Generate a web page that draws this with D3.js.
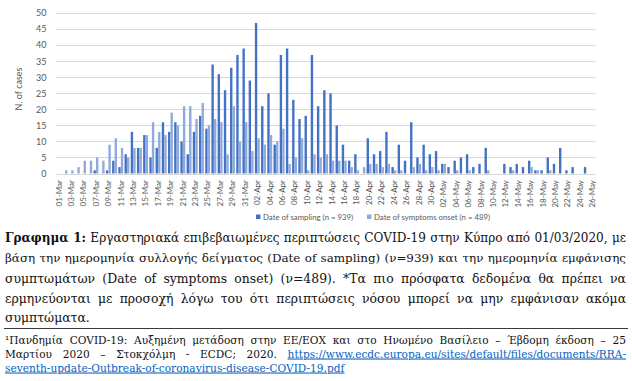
<!DOCTYPE html>
<html><head><meta charset="utf-8">
<script src="https://cdn.jsdelivr.net/npm/d3@7"></script>
<style>body{margin:0;background:#fff} svg{display:block}</style>
</head><body>
<svg id="c" width="632" height="381"></svg>
<script>
// ---- data ----
const days = d3.timeDays(new Date(2020, 2, 1), new Date(2020, 4, 27));
const categories = days.map(d3.timeFormat("%d-%b"));   // 01-Mar ... 26-May
const sampling = [
  0,0,0,0,0,0,1,0,1,4,2,6,13,8,12,
  5,8,16,13,16,10,6,13,18,14,
  34,31,26,33,37,39,29,47,21,25,
  9,37,39,23,17,18,
  37,21,26,25,15,9,4,6,0,11,
  6,7,13,2,9,4,16,5,9,6,
  7,3,2,4,5,6,2,3,8,0,
  0,3,2,3,2,4,1,1,5,3,
  8,1,2,0,2,0
];
const onset = [
  0,1,1,2,4,4,5,4,9,11,8,5,8,8,12,
  16,13,12,19,15,21,21,17,22,15,
  17,16,6,21,10,16,7,11,9,12,
  10,14,3,5,11,1,
  6,5,6,4,4,4,2,1,2,3,
  3,2,3,1,1,0,2,3,1,2,
  1,3,0,1,0,1,0,0,1,0,
  0,0,1,0,0,2,1,0,1,0,
  0,0,0,0,0,0
];
const yTicks = [0,5,10,15,20,25,30,35,40,45,50];
const seriesNames = ["Date of sampling (n = 939)", "Date of symptoms onset (n = 489)"];
const seriesColors = ["#4472C4", "#8FAADC"];
const yTitle = "N. of cases";

const captionLines = [
  [{t:"Γραφημα 1:", b:true}, {t:" Εργαστηριακά επιβεβαιωμένες περιπτώσεις COVID-19 στην Κύπρο από 01/03/2020, με"}],
  [{t:"βάση την ημερομηνία συλλογής δείγματος (Date of sampling) (ν=939) και την ημερομηνία εμφάνισης"}],
  [{t:"συμπτωμάτων (Date of symptoms onset) (ν=489). *Τα πιο πρόσφατα δεδομένα θα πρέπει να"}],
  [{t:"ερμηνεύονται με προσοχή λόγω του ότι περιπτώσεις νόσου μπορεί να μην εμφάνισαν ακόμα"}],
  [{t:"συμπτώματα."}]
];
const footLines = [
  [{t:"¹Πανδημία COVID-19: Αυξημένη μετάδοση στην ΕΕ/ΕΟΧ και στο Ηνωμένο Βασίλειο – Έβδομη έκδοση – 25"}],
  [{t:"Μαρτίου 2020 – Στοκχόλμη - ECDC; 2020. "}, {t:"https://www.ecdc.europa.eu/sites/default/files/documents/RRA-", link:true}],
  [{t:"seventh-update-Outbreak-of-coronavirus-disease-COVID-19.pdf", link:true}]
];

// ---- chart ----
const svg = d3.select("#c");
const sansFont = "Lato, 'Open Sans', sans-serif";
const serifFont = "'DejaVu Serif', 'Liberation Serif', serif";
const plotL = 55.6, plotR = 595.6, y0 = 173.5, y50 = 13.3;

const x = d3.scaleBand().domain(categories).range([plotL, plotR]).padding(0);
const xi = d3.scaleBand().domain([0, 1]).range([0, x.bandwidth()]).paddingInner(0.05).paddingOuter(0.26);
const y = d3.scaleLinear().domain([0, 50]).range([y0, y50]);

svg.append("g").selectAll("line").data(yTicks).join("line")
  .attr("x1", plotL).attr("x2", plotR)
  .attr("y1", d => Math.round(y(d)) + 0.5).attr("y2", d => Math.round(y(d)) + 0.5)
  .attr("stroke", "#D9D9D9").attr("stroke-width", 1);

svg.append("g").selectAll("text").data(yTicks).join("text")
  .attr("x", 46.5).attr("y", d => y(d)).attr("dy", "0.35em")
  .attr("text-anchor", "end").attr("font-family", sansFont).attr("font-size", 9)
  .attr("fill", "#595959").text(d => d);

svg.append("text")
  .attr("transform", `translate(18.5,89) rotate(-90)`)
  .attr("text-anchor", "middle").attr("dy", "0.35em")
  .attr("font-family", sansFont).attr("font-size", 9).attr("fill", "#595959")
  .text(yTitle);

const series = [sampling, onset];
series.forEach((vals, s) => {
  svg.append("g").selectAll("rect").data(vals).join("rect")
    .attr("x", (d, i) => x(categories[i]) + xi(s))
    .attr("width", xi.bandwidth())
    .attr("y", d => y(d))
    .attr("height", d => y(0) - y(d))
    .attr("fill", seriesColors[s]);
});

svg.append("g").selectAll("text").data(categories.filter((c, i) => i % 2 === 0)).join("text")
  .attr("transform", d => `translate(${x(d) + x.bandwidth() / 2},180) rotate(-90)`)
  .attr("text-anchor", "end").attr("dy", "0.35em")
  .attr("font-family", sansFont).attr("font-size", 8).attr("fill", "#595959")
  .text(d => d);

// legend
const legendX = [256, 367];
seriesNames.forEach((name, s) => {
  svg.append("rect").attr("x", legendX[s]).attr("y", 214.5).attr("width", 4.5).attr("height", 4.5)
    .attr("fill", seriesColors[s]);
  svg.append("text").attr("x", legendX[s] + 7).attr("y", 216.8).attr("dy", "0.35em")
    .attr("font-family", sansFont).attr("font-size", 7.8).attr("fill", "#595959").text(name);
});

// caption (justified lines)
const lineW = 621;
function writeLines(lines, baselines, size, justifyCount) {
  lines.forEach((parts, li) => {
    const t = svg.append("text").attr("x", 5).attr("y", baselines[li])
      .attr("font-family", serifFont).attr("font-size", size).attr("fill", "#111")
      .attr("xml:space", "preserve");
    parts.forEach(p => {
      const ts = t.append("tspan").text(p.t);
      if (p.b) ts.attr("font-weight", "bold");
      if (p.link) ts.attr("fill", "#0563C1").attr("text-decoration", "underline");
    });
    if (li < justifyCount) {
      const txt = parts.map(p => p.t).join("");
      const n = (txt.match(/ /g) || []).length;
      let len = t.node().getComputedTextLength();
      const maxNat = lineW - n * 0.5;
      if (len > maxNat) {
        t.attr("font-size", size * maxNat / len);
        len = t.node().getComputedTextLength();
      }
      if (n) t.attr("word-spacing", Math.max(0, (lineW - len) / n));
    }
  });
}
writeLines(captionLines, [242, 262, 282.5, 302.5, 322], 12.4, 4);

svg.append("line").attr("x1", 4).attr("x2", 628).attr("y1", 328.5).attr("y2", 328.5)
  .attr("stroke", "#3a3a3a").attr("stroke-width", 1.2);

writeLines(footLines, [343.5, 357.5, 371.5], 10.6, 2);
</script>
</body></html>
